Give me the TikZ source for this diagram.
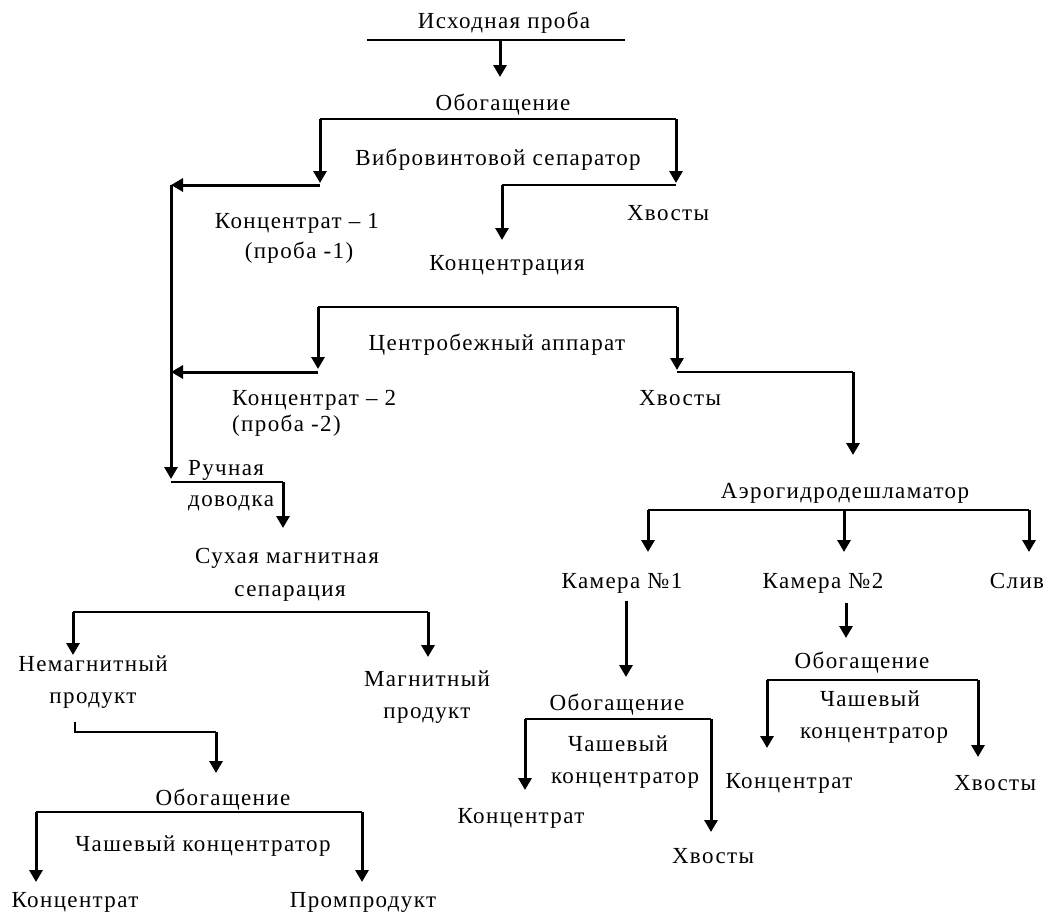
\documentclass[tikz,border=0pt]{standalone}
\usepackage{fontspec}
\setmainfont{Liberation Serif}[LetterSpace=6]
\usetikzlibrary{arrows.meta}

\begin{document}
\begin{tikzpicture}[
    x=1pt, y=-1pt,
    lbl/.style={font=\fontsize{23}{27}\selectfont, inner sep=0pt, anchor=base},
    lblw/.style={lbl, anchor=base west},
    thinline/.style={line width=1.5pt},
    arrow/.style={line width=3pt, -{Triangle[length=12pt, width=13pt]}}
]
    \useasboundingbox (0,0) rectangle (1051,916);

    % Labels
    \node[lbl] (src) at (504,28) {Исходная проба};
    \node[lbl] (enrich) at (503,110) {Обогащение};
    \node[lbl] (vibro) at (498,165) {Вибровинтовой сепаратор};
    \node[lbl] (conc1) at (297,228) {Концентрат -- 1};
    \node[lbl] (sample1) at (299,258) {(проба -1)};
    \node[lbl] (tail1) at (668,220) {Хвосты};
    \node[lbl] (concn) at (507,270) {Концентрация};
    \node[lbl] (centri) at (497,350) {Центробежный аппарат};
    \node[lblw] (conc2) at (232,405) {Концентрат -- 2};
    \node[lblw] (sample2) at (232,431) {(проба -2)};
    \node[lbl] (tail2) at (680,405) {Хвосты};
    \node[lblw] (manual) at (188,475) {Ручная};
    \node[lblw] (finish) at (188,506) {доводка};
    \node[lbl] (drymag) at (287,563) {Сухая магнитная};
    \node[lbl] (drysep) at (290,596) {сепарация};
    \node[lbl] (nonmag) at (93,671) {Немагнитный};
    \node[lbl] (nonmagp) at (93,703) {продукт};
    \node[lbl] (mag) at (427,686) {Магнитный};
    \node[lbl] (magp) at (427,718) {продукт};
    \node[lbl] (enrichL) at (223,805) {Обогащение};
    \node[lbl] (bowlL) at (203,851) {Чашевый концентратор};
    \node[lbl] (concL) at (75,907) {Концентрат};
    \node[lbl] (middL) at (363,907) {Промпродукт};
    \node[lbl] (aero) at (845,498) {Аэрогидродешламатор};
    \node[lbl] (cam1) at (622,588) {Камера №1};
    \node[lbl] (cam2) at (823,588) {Камера №2};
    \node[lbl] (drain) at (1017,588) {Слив};
    \node[lbl] (enrichA) at (617,710) {Обогащение};
    \node[lbl] (bowlA) at (618,751) {Чашевый};
    \node[lbl] (bowlAb) at (625,783) {концентратор};
    \node[lbl] (concA) at (521,823) {Концентрат};
    \node[lbl] (tailA) at (713,863) {Хвосты};
    \node[lbl] (enrichB) at (862,668) {Обогащение};
    \node[lbl] (bowlB) at (870,706) {Чашевый};
    \node[lbl] (bowlBb) at (874,738) {концентратор};
    \node[lbl] (concB) at (789,788) {Концентрат};
    \node[lbl] (tailB) at (995,790) {Хвосты};

    % Junction points
    \coordinate (srcL) at (367,40);
    \coordinate (srcR) at (625,40);
    \coordinate (srcM) at (500,40);
    \coordinate (srcT) at (500,77);
    \coordinate (vibL) at (320,119);
    \coordinate (vibR) at (676,119);
    \coordinate (vibLT) at (320,183);
    \coordinate (vibRT) at (676,183);
    \coordinate (vibLB) at (320,185);
    \coordinate (vibRB) at (676,185);
    \coordinate (concnM) at (502,185);
    \coordinate (concnT) at (502,240);
    \coordinate (trunk1) at (171,185);
    \coordinate (trunkT) at (171,479);
    \coordinate (cenL) at (318,307);
    \coordinate (cenR) at (677,307);
    \coordinate (cenLT) at (318,369);
    \coordinate (cenRT) at (677,370);
    \coordinate (cenLB) at (318,372);
    \coordinate (cenRB) at (677,372);
    \coordinate (trunk2) at (171,372);
    \coordinate (aeroM) at (853,372);
    \coordinate (aeroT) at (853,455);
    \coordinate (manB) at (171,482);
    \coordinate (manR) at (283,482);
    \coordinate (manT) at (283,528);
    \coordinate (magL) at (73,612);
    \coordinate (magR) at (428,612);
    \coordinate (magLT) at (73,655);
    \coordinate (magRT) at (428,657);
    \coordinate (nmTick) at (75,722);
    \coordinate (nmL) at (75,732);
    \coordinate (nmR) at (216,732);
    \coordinate (nmT) at (216,773);
    \coordinate (bowlLL) at (36,812);
    \coordinate (bowlLR) at (362,812);
    \coordinate (bowlLLT) at (36,882);
    \coordinate (bowlLRT) at (362,882);
    \coordinate (aeroL) at (648,510);
    \coordinate (aeroC) at (844,510);
    \coordinate (aeroR) at (1029,510);
    \coordinate (aeroLT) at (648,552);
    \coordinate (aeroCT) at (844,552);
    \coordinate (aeroRT) at (1029,552);
    \coordinate (cam1B) at (626,601);
    \coordinate (cam1T) at (626,677);
    \coordinate (cam2B) at (846,603);
    \coordinate (cam2T) at (846,638);
    \coordinate (bowlAL) at (525,719);
    \coordinate (bowlAR) at (711,719);
    \coordinate (bowlALT) at (525,790);
    \coordinate (bowlART) at (711,832);
    \coordinate (bowlBL) at (767,680);
    \coordinate (bowlBR) at (978,680);
    \coordinate (bowlBLT) at (767,748);
    \coordinate (bowlBRT) at (978,757);

    % Main line
    \draw[thinline] (srcL) -- (srcR);
    \draw[arrow] (srcM) -- (srcT);
    \draw[thinline] (vibL) -- (vibR);
    \draw[arrow] (vibL) -- (vibLT);
    \draw[arrow] (vibR) -- (vibRT);
    \draw[arrow] (vibLB) -- (trunk1);
    \draw[thinline] (vibRB) -- (concnM);
    \draw[arrow] (concnM) -- (concnT);
    \draw[thinline] (cenL) -- (cenR);
    \draw[arrow] (cenL) -- (cenLT);
    \draw[arrow] (cenR) -- (cenRT);
    \draw[arrow] (cenLB) -- (trunk2);
    \draw[arrow] (trunk1) -- (trunkT);
    \draw[thinline] (cenRB) -- (aeroM);
    \draw[arrow] (aeroM) -- (aeroT);

    % Finishing branch
    \draw[thinline] (manB) -- (manR);
    \draw[arrow] (manR) -- (manT);
    \draw[thinline] (magL) -- (magR);
    \draw[arrow] (magL) -- (magLT);
    \draw[arrow] (magR) -- (magRT);
    \draw[thinline] (nmTick) -- (nmL) -- (nmR);
    \draw[arrow] (nmR) -- (nmT);
    \draw[thinline] (bowlLL) -- (bowlLR);
    \draw[arrow] (bowlLL) -- (bowlLLT);
    \draw[arrow] (bowlLR) -- (bowlLRT);

    % Desliming branch
    \draw[thinline] (aeroL) -- (aeroR);
    \draw[arrow] (aeroL) -- (aeroLT);
    \draw[arrow] (aeroC) -- (aeroCT);
    \draw[arrow] (aeroR) -- (aeroRT);
    \draw[arrow] (cam1B) -- (cam1T);
    \draw[arrow] (cam2B) -- (cam2T);
    \draw[thinline] (bowlAL) -- (bowlAR);
    \draw[arrow] (bowlAL) -- (bowlALT);
    \draw[arrow] (bowlAR) -- (bowlART);
    \draw[thinline] (bowlBL) -- (bowlBR);
    \draw[arrow] (bowlBL) -- (bowlBLT);
    \draw[arrow] (bowlBR) -- (bowlBRT);
\end{tikzpicture}
\end{document}
